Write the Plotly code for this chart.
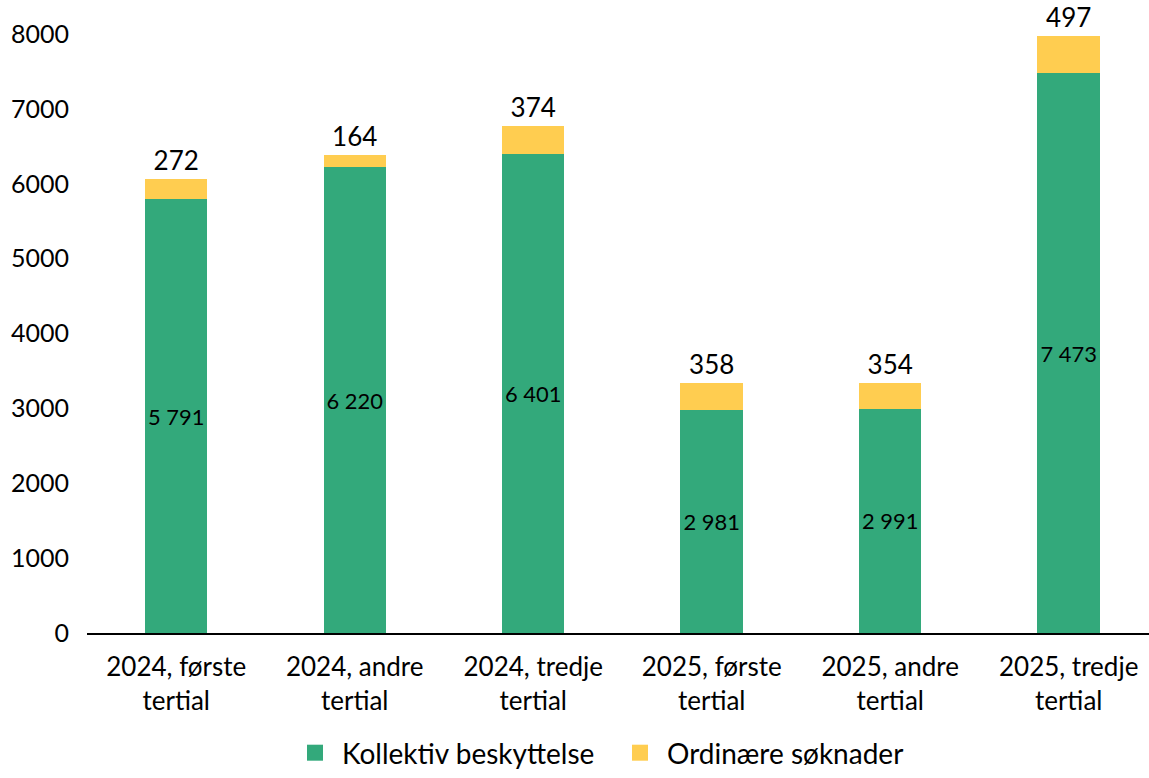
import plotly.graph_objects as go

categories = ["2024, første<br>tertial", "2024, andre<br>tertial", "2024, tredje<br>tertial",
              "2025, første<br>tertial", "2025, andre<br>tertial", "2025, tredje<br>tertial"]
kollektiv = [5791, 6220, 6401, 2981, 2991, 7473]
ordinaere = [272, 164, 374, 358, 354, 497]
y_ticks = [0, 1000, 2000, 3000, 4000, 5000, 6000, 7000, 8000]
series_names = ["Kollektiv beskyttelse", "Ordinære søknader"]

def fmt(v):
    return f"{v:,}".replace(",", " ")

FONT = "Lato"
GREEN = "#33A97B"
YELLOW = "#FFCD50"
W, H = 1149, 778
T = 34
L = 87
PLOT_BOTTOM = 633

xs = list(range(len(categories)))
fig = go.Figure()
fig.add_trace(go.Bar(
    x=xs, y=kollektiv, name=series_names[0], showlegend=False,
    marker=dict(color=GREEN, line=dict(width=0)),
    text=[fmt(v) for v in kollektiv], textposition="inside", insidetextanchor="middle",
    textfont=dict(color="black", size=26, family=FONT), textangle=0,
))
fig.add_trace(go.Bar(
    x=xs, y=ordinaere, name=series_names[1], showlegend=False,
    marker=dict(color=YELLOW, line=dict(width=0)),
    text=[fmt(v) for v in ordinaere], textposition="outside",
    textfont=dict(color="black", size=26, family=FONT), textangle=0, cliponaxis=False,
))
# legend entries with larger square swatches
for name, col in zip(series_names, [GREEN, YELLOW]):
    fig.add_trace(go.Scatter(
        x=[None], y=[None], mode="markers", name=name,
        marker=dict(symbol="square", size=20, color=col),
    ))

plot_h = H - T
fig.update_layout(
    barmode="stack", bargap=0.65,
    width=W, height=H,
    margin=dict(l=L, r=0, t=T, b=0),
    paper_bgcolor="white", plot_bgcolor="white",
    font=dict(family=FONT, size=26, color="black"),
    legend=dict(orientation="h", x=(288 - L) / (W - L), xanchor="left",
                y=0, yanchor="bottom",
                font=dict(size=28, family=FONT), itemwidth=44, traceorder="normal",
                entrywidth=266, entrywidthmode="pixels"),
    xaxis=dict(
        tickmode="array", tickvals=xs, ticktext=categories,
        range=[-0.5, 5.45], showline=True, linecolor="black", linewidth=2,
        ticks="", showgrid=False, zeroline=False, tickfont=dict(size=26),
        ticklabelstandoff=10, automargin=False,
    ),
    yaxis=dict(
        domain=[(H - PLOT_BOTTOM) / plot_h, 1],
        range=[0, 8000], tickmode="array", tickvals=y_ticks,
        ticktext=[str(v) for v in y_ticks], showgrid=False, zeroline=False,
        showline=False, ticks="", ticklabelstandoff=17, tickfont=dict(size=25),
        automargin=False,
    ),
)

fig.write_html("out.html")
